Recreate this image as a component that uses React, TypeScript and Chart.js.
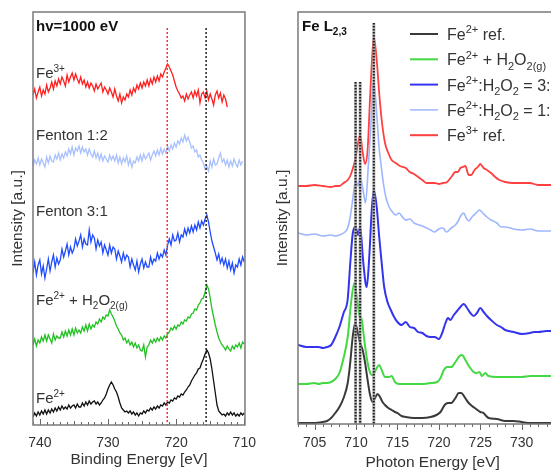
import React, { useEffect, useRef } from 'react';
import { Chart, registerables } from 'chart.js';
Chart.register(...registerables);

const FONT = 'Arial, "Liberation Sans", Helvetica, sans-serif';
const TEXT = '#333333';

// ---------- Left panel: XPS (hv = 1000 eV), sampled every 0.25 eV ----------
const XPS_STEP = 0.25;
const XPS_FE3_START = 741;
const XPS_FE3 = [
  330,336,327,333, 338,329,335,331, 340,333,337,343, 336,344,339,346, 341,348,344,339,
  350,343,348,352, 345,351,346,342, 348,341,345,338, 343,337,342,339, 334,341,336,339,
  342,333,338,335, 331,337,333,328, 336,329,324,331, 322,328,325,331, 328,335,330,337,
  333,340,336,342, 337,343,339,345, 339,346,341,348, 343,349,344,351, 348,353,357,361,
  358,354,350,344, 338,334,331,327, 329,324,331,326, 330,333,327,334, 329,335,322,331,
  333,327,334,325, 331,326,320,330, 334,327,332,323, 330,326,318,
];
const XPS_F12_START = 741;
const XPS_F12 = [
  259,265,261,267, 260,266,262,258, 268,262,269,264, 263,270,266,272, 265,271,267,273,
  269,276,271,278, 270,277,274,279, 272,278,273,276, 270,276,271,268, 274,267,272,265,
  271,264,269,266, 263,270,265,269, 264,270,262,268, 261,267,263,269, 260,266,258,264,
  262,268,264,270, 264,271,266,269, 272,265,270,274, 269,275,270,277, 271,276,272,279,
  274,280,276,282, 278,284,281,287, 283,290,284,288, 283,277,279,273, 275,268,270,265,
  262,256,259,254, 264,258,266,260, 261,267,272,263, 266,260,265,258, 264,259,266,261,
  258,265,260,264,
];
const XPS_F31_START = 741;
const XPS_F31 = [
  152,163,150,160, 165,151,159,147, 156,166,154,163, 170,158,167,161, 165,176,168,174,
  181,170,178,172, 176,186,179,184, 190,178,186,181, 180,195,183,190, 187,176,185,179,
  183,172,180,175, 170,180,172,178, 176,166,174,169, 163,172,165,170, 168,158,166,160,
  155,164,153,161, 166,157,163,158, 158,168,161,166, 164,172,166,171, 168,175,170,180,
  186,180,190,184, 185,192,183,190, 188,196,190,197, 192,199,193,200, 195,203,197,204,
  200,206,210,203, 193,184,178,172, 165,171,162,167, 160,166,157,164, 155,162,152,160,
  158,166,160,168, 163,
];
const XPS_H2O2_START = 741;
const XPS_H2O2 = [
  80,86,79,85, 82,88,84,90, 84,90,86,82, 91,85,89,87, 87,93,88,94,
  89,95,90,96, 90,97,92,95, 92,98,94,100, 94,101,96,100, 98,103,101,106,
  103,108,106,110, 109,115,111,108, 104,99,96,92, 90,85,87,82, 85,80,83,78,
  82,77,80,75, 74,80,68,78, 80,85,82,86, 83,87,84,88, 85,89,87,91,
  93,97,95,99, 96,100,99,103, 101,105,104,108, 107,111,112,116, 115,120,122,126,
  127,133,140,136, 127,116,108,100, 93,87,83,80, 78,75,79,76, 74,79,76,80,
  78,82,77,83, 81,
];
const XPS_FE2_START = 741;
const XPS_FE2 = [
  8,12,9,13, 10,14,11,15, 11,15,12,16, 13,17,14,18, 15,19,16,18,
  16,20,17,19, 20,17,21,18, 18,22,19,23, 20,24,21,23, 24,21,23,20,
  22,25,27,31, 36,40,43,40, 36,33,28,22, 17,15,13,14, 12,14,11,13,
  10,12,9,12, 11,14,12,15, 14,17,15,18, 16,19,17,20, 19,22,20,23,
  22,25,24,27, 26,29,28,31, 30,33,35,38, 40,44,47,50, 52,56,57,62,
  66,71,75,72, 66,56,44,32, 20,14,12,10, 11,9,12,10, 13,10,12,9,
  11,9,12,10, 12,
];
const XPS_TICKS = [740, 730, 720, 710];
const XPS_MARKERS = [721.3, 715.6];
const XPS_MARKER_COLORS = ['#ff3030', '#222222'];
const XPS_MARKER_TOP = 397;

// ---------- Right panel: XAS Fe L2,3 ----------
const XAS_FE2_REF = [
  [703,1],[704,1],[705,1],[706,2],[706.5,3],[707,6],[707.5,11],[708,17],[708.5,26],[709,41],
  [709.3,61],[709.6,87],[709.9,101],[710.2,92],[710.5,81],[710.8,74],[711.1,61],[711.4,44],[711.7,29],[712,22],
  [712.3,26],[712.6,30],[712.9,27],[713.2,22],[713.5,19],[713.9,16],[714.3,14],[714.7,12],[715,11],[715.5,8],
  [716,7],[717,6],[718,6],[719,7],[719.7,9],[720.2,12],[720.7,19],[721.1,21],[721.5,21],[722,26],
  [722.4,31],[722.7,31],[723.1,27],[723.5,22],[724,18],[724.5,15],[725,12],[725.4,11],[725.6,9],[726,6],
  [727,5],[728,3],[729,3],[730,2],[731,1],[732,1],[733,1],[735.5,1],
];
const XAS_FE2_H2O2 = [
  [703,40],[704,40],[705,41],[705.5,40],[706,41],[706.5,41],[707,42],[707.5,45],[708,51],[708.5,66],
  [709,87],[709.4,121],[709.8,141],[710.1,127],[710.4,109],[710.7,104],[711,84],[711.3,66],[711.6,54],[711.9,49],
  [712.2,51],[712.5,56],[712.8,59],[713.1,54],[713.5,47],[714,47],[714.3,48],[714.7,42],[715.2,40],[716,40],
  [717,40],[718,40],[719,41],[719.8,42],[720.2,46],[720.6,54],[721,57],[721.5,57],[722,62],[722.5,68],
  [722.8,69],[723.2,64],[723.7,57],[724.2,52],[724.6,51],[724.9,52],[725.2,48],[725.6,51],[726,48],[727,47],
  [728,47],[729,47],[730,47],[731,48],[732,48],[733,48],[735.5,48],
];
const XAS_RATIO_31 = [
  [703,79],[704,77],[705,77],[705.5,77],[706,76],[706.5,77],[707,79],[707.5,87],[708,97],[708.5,111],
  [709,125],[709.3,160],[709.6,190],[709.95,197],[710.25,189],[710.5,197],[710.85,164],[711.15,141],[711.3,137],[711.6,167],
  [711.9,214],[712.15,234],[712.5,217],[712.8,187],[713.1,161],[713.4,137],[713.8,122],[714.2,114],[714.6,107],[715,102],
  [715.5,99],[716,102],[716.5,97],[717,96],[717.5,92],[718,91],[718.5,88],[719,87],[719.5,87],[720,85],
  [720.4,91],[720.8,101],[721.1,106],[721.4,104],[721.8,109],[722.2,113],[722.6,117],[723,120],[723.4,116],[723.8,111],
  [724.2,108],[724.6,111],[725,116],[725.4,112],[725.8,108],[726.3,104],[727,99],[727.5,97],[728,94],[729,92],
  [730,90],[731,91],[731.5,92],[732,92],[733,93],[735.5,93],
];
const XAS_RATIO_12 = [
  [703,191],[704,189],[705,190],[706,188],[707,189],[707.5,188],[708,189],[708.5,191],[709,196],[709.3,207],
  [709.6,224],[709.95,244],[710.25,238],[710.5,247],[710.85,234],[711.15,221],[711.5,260],[711.8,300],[712,335],[712.15,342],
  [712.5,310],[712.8,275],[713,261],[713.3,241],[713.6,227],[714,217],[714.4,212],[714.8,209],[715.2,211],[715.6,207],
  [716,204],[716.5,205],[717,201],[718,198],[719,194],[719.5,192],[720,195],[720.5,196],[720.9,192],[721.5,196],
  [722,199],[722.4,204],[722.7,209],[723,211],[723.3,206],[723.6,203],[724,207],[724.5,211],[724.9,214],[725.3,211],
  [725.8,207],[726.3,204],[727,201],[727.5,197],[728,197],[729,195],[730,194],[731,195],[732,193],[733,193],
  [735.5,193],
];
const XAS_FE3_REF = [
  [703,238],[704,238],[705,239],[706,238],[707,237],[707.5,238],[708,238],[708.5,241],[709,244],[709.3,248],
  [709.6,255],[709.95,266],[710.25,281],[710.5,289],[710.8,272],[711.1,260],[711.4,274],[711.7,327],[712,374],[712.15,387],
  [712.5,364],[712.8,331],[713.1,304],[713.5,281],[713.9,271],[714.3,264],[714.8,261],[715.3,258],[716,256],[716.5,252],
  [717,250],[717.5,247],[718,244],[718.5,241],[719,241],[719.5,241],[720,240],[720.5,241],[721,242],[721.5,247],
  [722,252],[722.3,252],[722.6,256],[722.9,257],[723.2,258],[723.6,249],[723.9,249],[724.3,254],[724.7,257],[725,260],
  [725.4,256],[725.8,254],[726.3,251],[726.8,247],[727.3,244],[728,242],[729,241],[730,241],[731,241],[731.5,240],
  [732,239],[733,239],[735.5,239],
];
const XAS_TICKS = [705, 710, 715, 720, 725, 730, 735];
const XAS_MARKERS = [709.95, 710.5, 712.15];
const XAS_MARKER_TOPS = [342, 342, 401];

type Seg = [string, number]; // 0 normal, 1 superscript, -1 subscript

const C_LEFT = { fe3: '#ff1f1f', f12: '#a9c1ff', f31: '#1f4cff', h2o2: '#22c022', fe2: '#111111' };
const C_RIGHT = { fe2: '#3a3a3a', h2o2: '#44d944', r31: '#3434ee', r12: '#9db6ff', fe3: '#ff4040' };

const XPS_LABELS: { segs: Seg[]; y: number; bold?: boolean }[] = [
  { segs: [['hv=1000 eV', 0]], y: 394, bold: true },
  { segs: [['Fe', 0], ['3+', 1]], y: 347 },
  { segs: [['Fenton 1:2', 0]], y: 285 },
  { segs: [['Fenton 3:1', 0]], y: 209 },
  { segs: [['Fe', 0], ['2+', 1], [' + H', 0], ['2', -1], ['O', 0], ['2(g)', -1]], y: 120 },
  { segs: [['Fe', 0], ['2+', 1]], y: 22 },
];

const LEGEND: { segs: Seg[]; color: string; width: number }[] = [
  { segs: [['Fe', 0], ['2+', 1], [' ref.', 0]], color: C_RIGHT.fe2, width: 2 },
  { segs: [['Fe', 0], ['2+', 1], [' + H', 0], ['2', -1], ['O', 0], ['2(g)', -1]], color: C_RIGHT.h2o2, width: 2 },
  { segs: [['Fe', 0], ['2+', 1], [':H', 0], ['2', -1], ['O', 0], ['2', -1], [' = 3:1', 0]], color: C_RIGHT.r31, width: 2 },
  { segs: [['Fe', 0], ['2+', 1], [':H', 0], ['2', -1], ['O', 0], ['2', -1], [' = 1:2', 0]], color: C_RIGHT.r12, width: 1.5 },
  { segs: [['Fe', 0], ['3+', 1], [' ref.', 0]], color: C_RIGHT.fe3, width: 2 },
];

function drawRich(ctx: CanvasRenderingContext2D, segs: Seg[], x: number, y: number, size: number, bold: boolean, color: string) {
  ctx.fillStyle = color;
  ctx.textBaseline = 'alphabetic';
  ctx.textAlign = 'left';
  let cx = x;
  for (const [t, k] of segs) {
    const fs = k === 0 ? size : Math.round(size * 0.68);
    ctx.font = `${bold ? 'bold ' : ''}${fs}px ${FONT}`;
    const dy = k === 1 ? -size * 0.42 : k === -1 ? size * 0.28 : 0;
    ctx.fillText(t, cx, y + dy);
    cx += ctx.measureText(t).width;
  }
}

function xpsSeries(start: number, vals: number[], color: string) {
  return {
    data: vals.map((v, i) => ({ x: start - i * XPS_STEP, y: v })),
    borderColor: color,
    borderWidth: 1.3,
    pointRadius: 0,
    fill: false,
    tension: 0,
  };
}

function xasSeries(pts: number[][], color: string, width: number) {
  return {
    data: pts.map(([x, y]) => ({ x, y })),
    borderColor: color,
    borderWidth: width,
    pointRadius: 0,
    fill: false,
    cubicInterpolationMode: 'monotone' as const,
  };
}

const leftDecor = {
  id: 'leftDecor',
  afterDatasetsDraw(chart: any) {
    const { ctx, chartArea: a, scales } = chart;
    const x = scales.x, y = scales.y;
    ctx.save();
    ctx.lineWidth = 1.5;
    ctx.setLineDash([2, 2]);
    XPS_MARKERS.forEach((e, i) => {
      const px = x.getPixelForValue(e);
      ctx.strokeStyle = XPS_MARKER_COLORS[i];
      ctx.beginPath();
      ctx.moveTo(px, y.getPixelForValue(XPS_MARKER_TOP));
      ctx.lineTo(px, a.bottom);
      ctx.stroke();
    });
    ctx.restore();
  },
  afterDraw(chart: any) {
    const { ctx, chartArea: a, scales } = chart;
    const x = scales.x, y = scales.y;
    ctx.save();
    ctx.strokeStyle = '#666';
    ctx.lineWidth = 1;
    for (let e = 710; e <= 741; e++) {
      const px = Math.round(x.getPixelForValue(e)) + 0.5;
      const len = e % 10 === 0 ? 6 : e % 5 === 0 ? 4 : 3;
      ctx.beginPath();
      ctx.moveTo(px, a.bottom);
      ctx.lineTo(px, a.bottom - len);
      ctx.stroke();
    }
    ctx.strokeStyle = '#7a7a7a';
    ctx.lineWidth = 1.5;
    ctx.strokeRect(a.left, a.top, a.right - a.left, a.bottom - a.top);
    XPS_LABELS.forEach((l) => {
      drawRich(ctx, l.segs, a.left + 3, y.getPixelForValue(l.y), 15, !!l.bold, l.bold ? '#111' : TEXT);
    });
    ctx.restore();
  },
};

const rightDecor = {
  id: 'rightDecor',
  afterDatasetsDraw(chart: any) {
    const { ctx, chartArea: a, scales } = chart;
    const x = scales.x, y = scales.y;
    ctx.save();
    XAS_MARKERS.forEach((e, i) => {
      const px = x.getPixelForValue(e);
      const top = y.getPixelForValue(XAS_MARKER_TOPS[i]);
      ctx.setLineDash([]);
      ctx.strokeStyle = 'rgba(160,160,160,0.8)';
      ctx.lineWidth = 3;
      ctx.beginPath(); ctx.moveTo(px, top); ctx.lineTo(px, a.bottom); ctx.stroke();
      ctx.setLineDash([1.5, 1.5]);
      ctx.strokeStyle = '#1a1a1a';
      ctx.lineWidth = 2;
      ctx.beginPath(); ctx.moveTo(px, top); ctx.lineTo(px, a.bottom); ctx.stroke();
    });
    ctx.restore();
  },
  afterDraw(chart: any) {
    const { ctx, chartArea: a, scales } = chart;
    const x = scales.x, y = scales.y;
    ctx.save();
    ctx.strokeStyle = '#666';
    ctx.lineWidth = 1;
    for (let e = 703; e <= 735; e++) {
      const px = Math.round(x.getPixelForValue(e)) + 0.5;
      const len = e % 5 === 0 ? 6 : 3;
      ctx.beginPath();
      ctx.moveTo(px, a.bottom);
      ctx.lineTo(px, a.bottom + len);
      ctx.stroke();
    }
    ctx.strokeStyle = '#7a7a7a';
    ctx.lineWidth = 1.5;
    ctx.strokeRect(a.left, a.top, a.right - a.left, a.bottom - a.top);
    drawRich(ctx, [['Fe L', 0], ['2,3', -1]], a.left + 4, y.getPixelForValue(393), 15, true, '#111');
    LEGEND.forEach((l, i) => {
      const ly = a.top + 22 + i * 25.3;
      ctx.setLineDash([]);
      ctx.strokeStyle = l.color;
      ctx.lineWidth = l.width;
      ctx.beginPath();
      ctx.moveTo(a.left + 112, ly);
      ctx.lineTo(a.left + 140, ly);
      ctx.stroke();
      drawRich(ctx, l.segs, a.left + 149, ly + 6, 16, false, TEXT);
    });
    ctx.restore();
  },
};

function axisTitle(text: string, pad: any) {
  return { display: true, text, color: TEXT, font: { size: 15.5, family: FONT }, padding: pad };
}

export default function App() {
  const leftRef = useRef<HTMLCanvasElement>(null);
  const rightRef = useRef<HTMLCanvasElement>(null);

  useEffect(() => {
    const left = new Chart(leftRef.current as HTMLCanvasElement, {
      type: 'line',
      data: {
        datasets: [
          xpsSeries(XPS_FE3_START, XPS_FE3, C_LEFT.fe3),
          xpsSeries(XPS_F12_START, XPS_F12, C_LEFT.f12),
          xpsSeries(XPS_F31_START, XPS_F31, C_LEFT.f31),
          xpsSeries(XPS_H2O2_START, XPS_H2O2, C_LEFT.h2o2),
          xpsSeries(XPS_FE2_START, XPS_FE2, C_LEFT.fe2),
        ] as any,
      },
      options: {
        responsive: false,
        animation: false,
        devicePixelRatio: 1,
        layout: { padding: { left: 0, right: 13, top: 12, bottom: 0 } },
        plugins: { legend: { display: false }, tooltip: { enabled: false } },
        scales: {
          x: {
            type: 'linear',
            reverse: true,
            min: 709.9,
            max: 741,
            afterBuildTicks: (ax: any) => { ax.ticks = XPS_TICKS.map((v) => ({ value: v })); },
            afterFit: (s: any) => { s.height = 48; },
            ticks: { color: TEXT, font: { size: 14, family: FONT }, padding: 10, maxRotation: 0, autoSkip: false },
            grid: { display: false, drawTicks: false },
            border: { display: false },
            title: axisTitle('Binding Energy [eV]', { top: 0, bottom: 4 }),
          },
          y: {
            type: 'linear',
            min: 0,
            max: 413,
            afterFit: (s: any) => { s.width = 33; },
            ticks: { display: false },
            grid: { display: false, drawTicks: false },
            border: { display: false },
            title: axisTitle('Intensity [a.u.]', { top: 8, bottom: 0 }),
          },
        },
      } as any,
      plugins: [leftDecor],
    });

    const right = new Chart(rightRef.current as HTMLCanvasElement, {
      type: 'line',
      data: {
        datasets: [
          xasSeries(XAS_FE2_REF, C_RIGHT.fe2, 2),
          xasSeries(XAS_FE2_H2O2, C_RIGHT.h2o2, 2),
          xasSeries(XAS_RATIO_31, C_RIGHT.r31, 2),
          xasSeries(XAS_RATIO_12, C_RIGHT.r12, 1.6),
          xasSeries(XAS_FE3_REF, C_RIGHT.fe3, 1.8),
        ] as any,
      },
      options: {
        responsive: false,
        animation: false,
        devicePixelRatio: 1,
        layout: { padding: { left: 0, right: 11, top: 12, bottom: 0 } },
        plugins: { legend: { display: false }, tooltip: { enabled: false } },
        scales: {
          x: {
            type: 'linear',
            min: 703,
            max: 735.5,
            afterBuildTicks: (ax: any) => { ax.ticks = XAS_TICKS.map((v) => ({ value: v })); },
            afterFit: (s: any) => { s.height = 49; },
            ticks: { color: TEXT, font: { size: 14, family: FONT }, padding: 11, maxRotation: 0, autoSkip: false },
            grid: { display: false, drawTicks: false },
            border: { display: false },
            title: axisTitle('Photon Energy [eV]', { top: 0, bottom: 1 }),
          },
          y: {
            type: 'linear',
            min: 0,
            max: 412,
            afterFit: (s: any) => { s.width = 32; },
            ticks: { display: false },
            grid: { display: false, drawTicks: false },
            border: { display: false },
            title: axisTitle('Intensity [a.u.]', { top: 7, bottom: 0 }),
          },
        },
      } as any,
      plugins: [rightDecor],
    });

    return () => {
      left.destroy();
      right.destroy();
    };
  }, []);

  return (
    <div style={{ position: 'fixed', left: 0, top: 0, width: 551, height: 473, overflow: 'hidden', background: '#fff' }}>
      <canvas ref={leftRef} width={266} height={473} style={{ position: 'absolute', left: 0, top: 0, width: 266, height: 473 }} />
      <canvas ref={rightRef} width={320} height={473} style={{ position: 'absolute', left: 266, top: 0, width: 320, height: 473 }} />
    </div>
  );
}
